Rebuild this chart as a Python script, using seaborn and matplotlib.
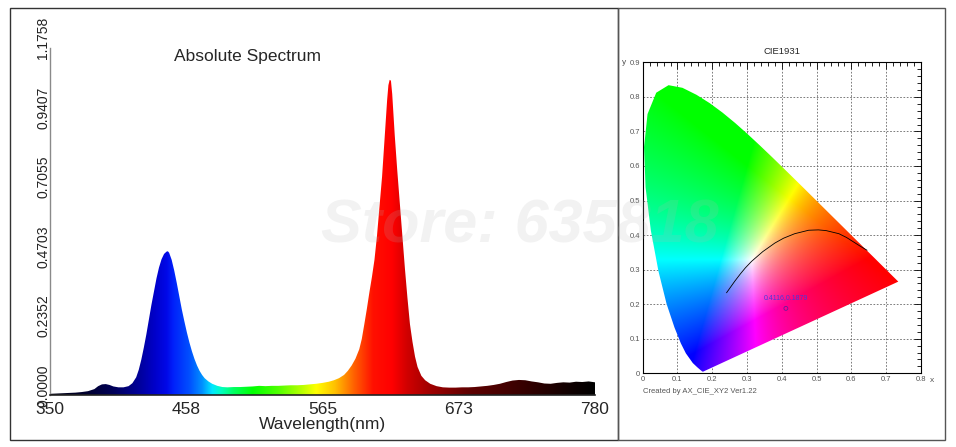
import numpy as np
import matplotlib
matplotlib.use("Agg")
import matplotlib.pyplot as plt
import matplotlib.colors as mcolors
import seaborn as sns
from matplotlib.patches import Rectangle, Polygon
from matplotlib.ticker import MultipleLocator

# ---- spectrum ----
wavelength = [350, 355, 360, 365, 370, 375, 380, 385, 388, 391, 394, 397, 400, 404, 408,
              412, 415, 418, 420, 422, 424, 426, 428, 430, 432, 434, 436, 438, 440, 442,
              443, 444, 446, 448, 450, 452, 454, 456, 458, 460, 462, 464, 466, 468, 470,
              472, 475, 478, 482, 486, 490, 495, 500, 505, 510, 515, 520, 525, 530, 535,
              540, 545, 550, 555, 560, 565, 570, 574, 578, 582, 585, 588, 591, 594, 596,
              598, 600, 602, 604, 606, 608, 610, 612, 614, 616, 617, 618, 619, 620, 622,
              624, 626, 628, 630, 632, 634, 636, 638, 640, 643, 646, 650, 655, 660, 665,
              670, 675, 680, 685, 690, 695, 700, 705, 710, 715, 720, 725, 730, 735, 740,
              745, 750, 755, 760, 765, 770, 775, 780]
intensity = [0.004, 0.005, 0.006, 0.007, 0.008, 0.010, 0.013, 0.020, 0.030, 0.036, 0.037, 0.034, 0.029, 0.026, 0.026,
             0.030, 0.040, 0.060, 0.085, 0.119, 0.160, 0.205, 0.255, 0.305, 0.350, 0.395, 0.432, 0.460, 0.478, 0.486,
             0.487, 0.482, 0.458, 0.422, 0.380, 0.335, 0.290, 0.250, 0.212, 0.178, 0.148, 0.122, 0.100, 0.082, 0.068,
             0.057, 0.046, 0.038, 0.031, 0.027, 0.026, 0.027, 0.027, 0.028, 0.029, 0.031, 0.030, 0.031, 0.031, 0.032,
             0.033, 0.033, 0.034, 0.036, 0.038, 0.041, 0.045, 0.050, 0.057, 0.068, 0.082, 0.100, 0.123, 0.155, 0.190,
             0.240, 0.292, 0.348, 0.400, 0.458, 0.540, 0.640, 0.740, 0.870, 1.000, 1.050, 1.068, 1.065, 1.020, 0.880,
             0.760, 0.650, 0.540, 0.430, 0.330, 0.240, 0.180, 0.130, 0.095, 0.065, 0.050, 0.038, 0.030, 0.026, 0.025,
             0.025, 0.026, 0.026, 0.027, 0.029, 0.031, 0.034, 0.038, 0.044, 0.049, 0.051, 0.050, 0.046, 0.043, 0.039,
             0.038, 0.041, 0.043, 0.042, 0.045, 0.044, 0.046, 0.043]

# fill colour along the wavelength axis
color_wl = [350, 380, 400, 420, 432, 442, 447, 460, 470, 478, 485, 495, 510, 530, 550, 560,
            575, 590, 605, 620, 632, 650, 680, 720, 760, 780]
color_hex = ['#000014', '#000030', '#000058', '#00009a', '#0000c8', '#0008e8', '#0020fa', '#0050ff',
             '#0090ff', '#00e8ff', '#00ffc0', '#00ff60', '#00ff00', '#50ff00', '#c0ff00', '#ffff00',
             '#ffc000', '#ff6000', '#ff1000', '#ff0000', '#d00000', '#a00000', '#600000', '#3a0000',
             '#100000', '#000000']

y_ticks = [0.0, 0.2352, 0.4703, 0.7055, 0.9407, 1.1758]
y_tick_labels = ['0.0000', '0.2352', '0.4703', '0.7055', '0.9407', '1.1758']
x_ticks = [350, 457.5, 565, 672.5, 780]
x_tick_labels = ['350', '458', '565', '673', '780']

# ---- CIE 1931 ----
locus_x = [0.1741, 0.1733, 0.1714, 0.1644, 0.1566, 0.1440, 0.1241, 0.1096, 0.0913, 0.0687,
           0.0454, 0.0235, 0.0082, 0.0039, 0.0139, 0.0389, 0.0743, 0.1142, 0.1547, 0.1929,
           0.2296, 0.2658, 0.3016, 0.3373, 0.3731, 0.4087, 0.4441, 0.4788, 0.5125, 0.5448,
           0.5752, 0.6029, 0.6270, 0.6658, 0.6915, 0.7079, 0.7190, 0.7260, 0.7300, 0.7334, 0.7347]
locus_y = [0.0050, 0.0048, 0.0051, 0.0109, 0.0177, 0.0297, 0.0578, 0.0868, 0.1327, 0.2007,
           0.2950, 0.4127, 0.5384, 0.6548, 0.7502, 0.8120, 0.8338, 0.8262, 0.8059, 0.7816,
           0.7543, 0.7243, 0.6923, 0.6589, 0.6245, 0.5896, 0.5547, 0.5202, 0.4866, 0.4544,
           0.4242, 0.3965, 0.3725, 0.3340, 0.3083, 0.2920, 0.2809, 0.2740, 0.2700, 0.2666, 0.2653]
planck_x = [0.241, 0.253, 0.265, 0.281, 0.295, 0.313, 0.345, 0.380, 0.405, 0.437, 0.477,
            0.505, 0.527, 0.564, 0.586, 0.625, 0.645]
planck_y = [0.233, 0.250, 0.267, 0.288, 0.305, 0.324, 0.352, 0.377, 0.391, 0.404, 0.414,
            0.415, 0.413, 0.404, 0.393, 0.368, 0.356]
point_x = [0.4116]
point_y = [0.1879]
point_label = '0.4116,0.1879'
cie_x_labels = ['0', '0.1', '0.2', '0.3', '0.4', '0.5', '0.6', '0.7', '0.8']
cie_y_labels = ['0', '0.1', '0.2', '0.3', '0.4', '0.5', '0.6', '0.7', '0.8', '0.9']

sns.set_style("white")
plt.rcParams['font.family'] = ['Liberation Sans', 'DejaVu Sans']

fig = plt.figure(figsize=(9.56, 4.47), dpi=100)
W, H = 956, 447

# ================= spectrum =================
ax = fig.add_axes([50 / W, 52 / H, 545 / W, 347 / H])
poly = ax.fill_between(wavelength, 0, intensity, color='none', lw=0)
grid_wl = np.linspace(350, 780, 860)
rgb = np.array([mcolors.to_rgb(c) for c in color_hex])
strip = np.stack([np.interp(grid_wl, color_wl, rgb[:, k]) for k in range(3)], axis=-1)[None, :, :]
im = ax.imshow(strip, extent=[350, 780, 0, 1.1758], origin='lower', aspect='auto', interpolation='bilinear')
im.set_clip_path(poly.get_paths()[0], ax.transData)

ax.set_xlim(350, 780)
ax.set_ylim(0, 1.1758)
for s in ['top', 'right']:
    ax.spines[s].set_visible(False)
ax.spines['left'].set_color('#8a8a8a')
ax.spines['left'].set_linewidth(1.0)
ax.spines['bottom'].set_color('#222222')
ax.spines['bottom'].set_linewidth(1.2)

ax.set_xticks(x_ticks, labels=x_tick_labels)
ax.tick_params(axis='x', length=3, width=0.8, color='#222222', labelsize=12.5, pad=2)
ax.set_yticks(y_ticks, labels=[''] * len(y_ticks))
ax.tick_params(axis='y', length=3, width=0.8, color='#8a8a8a', pad=1)
for v, s in zip(y_ticks, y_tick_labels):
    ax.annotate(s, xy=(0, v), xycoords=('axes fraction', 'data'), xytext=(-5, 7),
                textcoords='offset points', rotation=90, ha='center', va='center',
                fontsize=10, color='#222222', annotation_clip=False)
ax.set_xlabel('Wavelength(nm)', fontsize=12.5, labelpad=0)
fig.text(174 / W, 1 - 57 / H, 'Absolute Spectrum', fontsize=12.5, ha='left', va='center')

# ================= CIE 1931 =================
ax2 = fig.add_axes([642.7 / W, 73.7 / H, 278.3 / W, 311 / H])
gx, gy = np.meshgrid(np.linspace(0.001, 0.8, 400), np.linspace(0.001, 0.9, 450))
XYZ = np.stack([gx / gy, np.ones_like(gx), (1 - gx - gy) / gy])
M = np.array([[3.2406, -1.5372, -0.4986], [-0.9689, 1.8758, 0.0415], [0.0557, -0.2040, 1.0570]])
lin = np.clip(np.einsum('ij,jkl->kli', M, XYZ), 0, None)
lin = lin / np.maximum(lin.max(axis=-1, keepdims=True), 1e-9)
field = lin ** 0.8
im2 = ax2.imshow(field, extent=[0, 0.8, 0, 0.9], origin='lower', aspect='auto', zorder=2)
horseshoe = Polygon(np.column_stack([locus_x, locus_y]), closed=True, facecolor='none',
                    edgecolor='none', transform=ax2.transData)
ax2.add_patch(horseshoe)
im2.set_clip_path(horseshoe)

sns.lineplot(x=planck_x, y=planck_y, ax=ax2, color='black', lw=0.6, sort=False, zorder=3)
sns.scatterplot(x=point_x, y=point_y, ax=ax2, marker='o', s=8, facecolor='none',
                edgecolor='#6a1a9a', linewidth=0.6, zorder=4)
ax2.text(point_x[0], point_y[0] + 0.03, point_label, fontsize=5, color='#4a3ad8',
         ha='center', va='center', zorder=4)

ax2.set_xlim(0, 0.8)
ax2.set_ylim(0, 0.9)
ax2.set_xticks(np.arange(9) * 0.1, labels=cie_x_labels)
ax2.set_yticks(np.arange(10) * 0.1, labels=cie_y_labels)
ax2.xaxis.set_minor_locator(MultipleLocator(0.02))
ax2.yaxis.set_minor_locator(MultipleLocator(0.02))
ax2.tick_params(which='both', direction='in', top=True, right=True, width=0.6, color='black')
ax2.tick_params(which='major', length=5, labelsize=5.5, labelcolor='#555555', pad=2)
ax2.tick_params(which='minor', length=3)
ax2.grid(True, which='major', linestyle=(0, (2, 2)), color='#666666', lw=0.6)
ax2.set_axisbelow(True)
for s in ax2.spines.values():
    s.set_color('black')
    s.set_linewidth(0.8)
ax2.set_title('CIE1931', fontsize=6.8, pad=6)
ax2.text(-0.048, 0.9, 'y', fontsize=6, color='#555555', ha='right', va='center')
ax2.text(0.826, -0.02, 'x', fontsize=6, color='#555555', ha='left', va='center')
ax2.text(0.0, -0.052, 'Created by AX_CIE_XY2 Ver1.22', fontsize=5.5, color='#555555',
         ha='left', va='center')

# panel frames
fig.add_artist(Rectangle((10 / W, 1 - 440 / H), 608 / W, 432 / H, transform=fig.transFigure,
                         fill=False, ec='#333333', lw=1.0))
fig.add_artist(Rectangle((618 / W, 1 - 440 / H), 327 / W, 432 / H, transform=fig.transFigure,
                         fill=False, ec='#555555', lw=1.0))

# watermark
fig.text(520 / W, 1 - 227 / H, 'Store: 635818', fontsize=44, fontweight='bold', fontstyle='italic',
         color='#b4b4b4', alpha=0.17, ha='center', va='center', zorder=10)

fig.savefig('out.png', dpi=100)
